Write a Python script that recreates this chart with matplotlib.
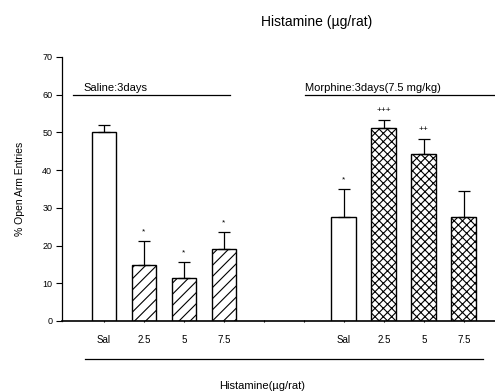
import matplotlib.pyplot as plt

plt.rcParams["font.family"] = ["Liberation Sans", "DejaVu Sans"]

# data
labels = ["Sal", "2.5", "5", "7.5", "", "", "Sal", "2.5", "5", "7.5"]
saline_vals = [50.0, 14.9, 11.3, 19.1]
saline_err = [2.1, 6.3, 4.3, 4.5]
morph_vals = [27.7, 51.1, 44.3, 27.7]
morph_err = [7.4, 2.3, 4.0, 6.7]
saline_marks = ["", "*", "*", "*"]
morph_marks = ["*", "+++", "++", ""]

fig = plt.figure(figsize=(4.95, 3.92), dpi=100)
ax = fig.add_axes([62 / 495, 71 / 392, 433 / 495, 264 / 392])

w = 0.62
sal_x = [0, 1, 2, 3]
mor_x = [6, 7, 8, 9]
hatch_s = [None, "///", "///", "///"]
hatch_m = [None, "xxxx", "xxxx", "xxxx"]

plt.rcParams["hatch.linewidth"] = 0.8
for x, v, e, h, m in zip(sal_x, saline_vals, saline_err, hatch_s, saline_marks):
    ax.bar(x, v, width=w, color="white", edgecolor="black", linewidth=1, hatch=h, zorder=2)
    ax.errorbar(x, v, yerr=[[0], [e]], color="black", capsize=4, elinewidth=0.9, capthick=0.9, zorder=3)
    if m:
        ax.text(x, v + e + 1.5, m, ha="center", va="bottom", fontsize=6)
for x, v, e, h, m in zip(mor_x, morph_vals, morph_err, hatch_m, morph_marks):
    ax.bar(x, v, width=w, color="white", edgecolor="black", linewidth=1, hatch=h, zorder=2)
    ax.errorbar(x, v, yerr=[[0], [e]], color="black", capsize=4, elinewidth=0.9, capthick=0.9, zorder=3)
    if m:
        ax.text(x, v + e + 1.5, m, ha="center", va="bottom", fontsize=6)

# group lines and labels
ax.plot([-0.77, 3.15], [60, 60], color="black", lw=0.9, clip_on=False)
ax.text(-0.52, 60.4, "Saline:3days", fontsize=8, ha="left", va="bottom")
ax.plot([5.02, 9.78], [60, 60], color="black", lw=0.9, clip_on=False)
ax.text(5.02, 60.4, "Morphine:3days(7.5 mg/kg)", fontsize=8, ha="left", va="bottom")

ax.set_xlim(-1.05, 9.78)
ax.set_ylim(0, 70)
ax.set_yticks(range(0, 71, 10))
ax.set_xticks(range(10))
ax.set_xticklabels(labels)
ax.tick_params(axis="x", length=1.5, direction="inout", pad=9, labelsize=7)
ax.tick_params(axis="y", length=4, width=0.8, labelsize=6.5, pad=3)
for s in ["top", "right"]:
    ax.spines[s].set_visible(False)
ax.spines["left"].set_linewidth(0.9)
ax.spines["bottom"].set_linewidth(1.2)
ax.set_ylabel("% Open Arm Entries", fontsize=7.5, labelpad=12)

# bottom line and x label
fig.add_artist(plt.Line2D([85 / 495, 483 / 495], [1 - 359 / 392, 1 - 359 / 392], color="black", lw=0.9))
fig.text(262 / 495, 1 - 386 / 392, "Histamine(\u00b5g/rat)", fontsize=8, ha="center", va="center")
fig.text(317 / 495, 1 - 22 / 392, "Histamine (\u00b5g/rat)", fontsize=10, ha="center", va="center")

fig.savefig("out.png", dpi=100)
